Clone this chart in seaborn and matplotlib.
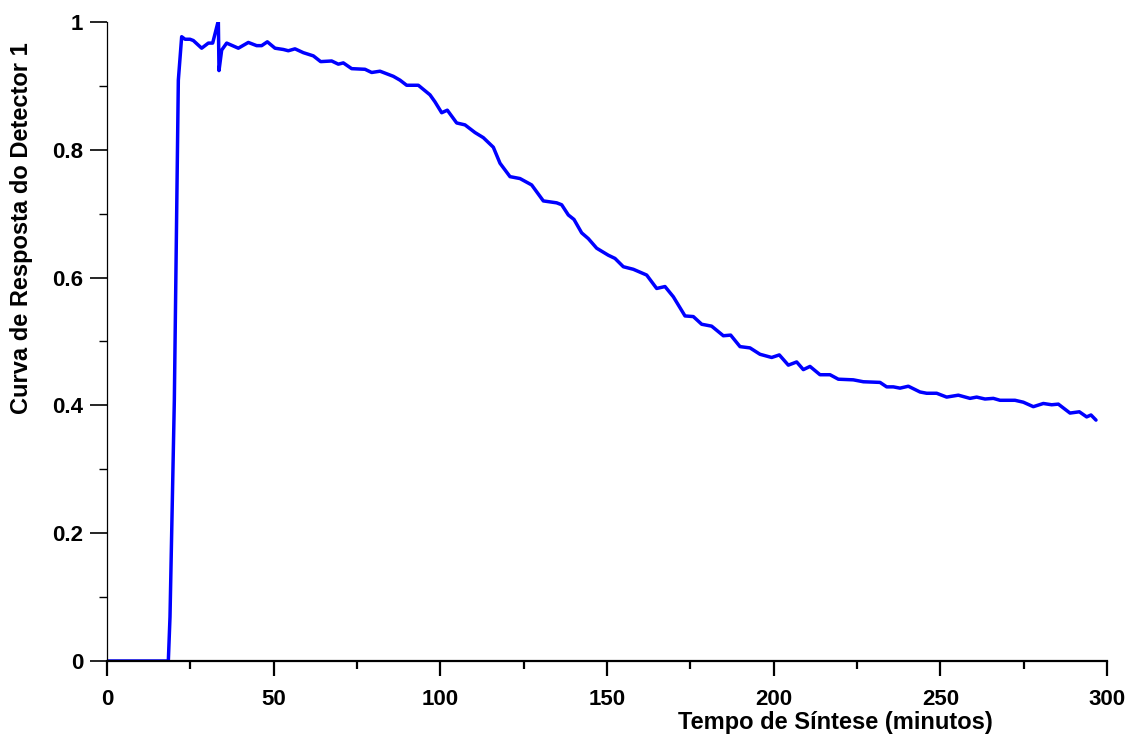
import numpy as np
import matplotlib
matplotlib.use("Agg")
import matplotlib.pyplot as plt
import matplotlib.ticker as mticker
import pandas as pd
import seaborn as sns


# detector response curve
tempo = [0, 5, 10, 15, 18.4, 18.9, 20.2, 21.4, 22.4, 23.4, 24.9, 25.9, 28.4, 30.4, 31.7,
         33.4, 33.6, 34.4, 35.9, 39.4, 42.4, 44.9, 46.4, 48.1, 50.4, 52.9, 54.4, 56.4,
         58.9, 61.9, 64.1, 67.4, 69.4, 70.9, 73.4, 77.4, 79.4, 81.9, 85.9, 87.9, 89.9,
         93.4, 96.9, 98.4, 100.4, 102.1, 104.9, 107.4, 110.4, 112.9, 115.9, 117.9, 120.9,
         123.9, 127.4, 130.9, 134.9, 136.4, 138.4, 140.1, 142.4, 144.4, 146.9, 150.4,
         152.4, 154.9, 157.9, 161.9, 164.9, 167.4, 169.9, 173.4, 175.9, 178.4, 181.4,
         184.9, 187.1, 189.9, 192.9, 195.9, 199.4, 201.7, 204.4, 206.9, 208.9, 210.9,
         213.9, 216.9, 219.4, 223.9, 226.9, 231.9, 233.9, 235.9, 237.9, 240.4, 243.9,
         245.9, 248.9, 251.9, 255.4, 258.9, 260.9, 263.4, 265.9, 267.9, 272.4, 274.9,
         277.9, 280.9, 283.4, 285.4, 288.9, 291.7, 293.9, 295.2, 296.7]
resposta = [0, 0, 0, 0, 0, 0.069, 0.408, 0.909, 0.977, 0.973, 0.973, 0.971, 0.959, 0.967, 0.967,
            1.002, 0.924, 0.956, 0.967, 0.959, 0.968, 0.963, 0.963, 0.969, 0.959, 0.957, 0.955, 0.958,
            0.952, 0.947, 0.938, 0.939, 0.934, 0.936, 0.927, 0.926, 0.921, 0.923, 0.915, 0.909, 0.901,
            0.901, 0.886, 0.875, 0.858, 0.862, 0.842, 0.839, 0.827, 0.819, 0.804, 0.779, 0.758,
            0.755, 0.745, 0.720, 0.717, 0.714, 0.698, 0.691, 0.670, 0.661, 0.646, 0.635,
            0.630, 0.617, 0.613, 0.604, 0.583, 0.586, 0.570, 0.540, 0.539, 0.527, 0.524,
            0.509, 0.510, 0.492, 0.490, 0.480, 0.475, 0.479, 0.463, 0.468, 0.456, 0.461,
            0.448, 0.448, 0.441, 0.440, 0.437, 0.436, 0.429, 0.429, 0.427, 0.430, 0.421,
            0.419, 0.419, 0.413, 0.416, 0.411, 0.413, 0.410, 0.411, 0.408, 0.408, 0.405,
            0.398, 0.403, 0.401, 0.402, 0.388, 0.390, 0.382, 0.385, 0.377]

df = pd.DataFrame({"Tempo": tempo, "Resposta": resposta})

sns.set_style("ticks", {"axes.edgecolor": "black", "xtick.color": "black",
                        "ytick.color": "black", "text.color": "black",
                        "axes.labelcolor": "black"})
plt.rcParams["font.family"] = ["Liberation Sans", "DejaVu Sans"]
plt.rcParams["font.weight"] = "bold"

fig = plt.figure(figsize=(11.28, 7.35), dpi=100)
ax = fig.add_axes([107 / 1128, 1 - 661 / 735, 1000 / 1128, 639 / 735])

sns.lineplot(data=df, x="Tempo", y="Resposta", ax=ax, color="#0000ff", linewidth=2.5)

ax.set_xlim(0, 300)
ax.set_ylim(0, 1)
ax.xaxis.set_major_locator(mticker.MultipleLocator(50))
ax.xaxis.set_minor_locator(mticker.MultipleLocator(25))
ax.yaxis.set_major_locator(mticker.MultipleLocator(0.2))
ax.yaxis.set_minor_locator(mticker.MultipleLocator(0.1))
ax.yaxis.set_major_formatter(mticker.FuncFormatter(lambda v, p: "%g" % round(v, 2)))

for s in ["top", "right"]:
    ax.spines[s].set_visible(False)
ax.spines["bottom"].set_linewidth(1.6)
ax.spines["left"].set_linewidth(0.9)

ax.tick_params(axis="x", which="major", direction="out", length=11, width=1.6, pad=9,
               labelsize=16, labelcolor="black")
ax.tick_params(axis="x", which="minor", direction="out", length=6, width=1.6)
ax.tick_params(axis="y", which="major", direction="out", length=12, width=1.2, pad=5,
               labelsize=16, labelcolor="black")
ax.tick_params(axis="y", which="minor", direction="out", length=6, width=1.0)

ax.set_xlabel("Tempo de Síntese (minutos)", fontsize=17, fontweight="bold", color="black")
ax.xaxis.set_label_coords(0.728, -0.079)
ax.set_ylabel("Curva de Resposta do Detector 1", fontsize=17, fontweight="bold", color="black")
ax.yaxis.set_label_coords(-0.074, 0.678)

fig.savefig("out.png", dpi=100)
